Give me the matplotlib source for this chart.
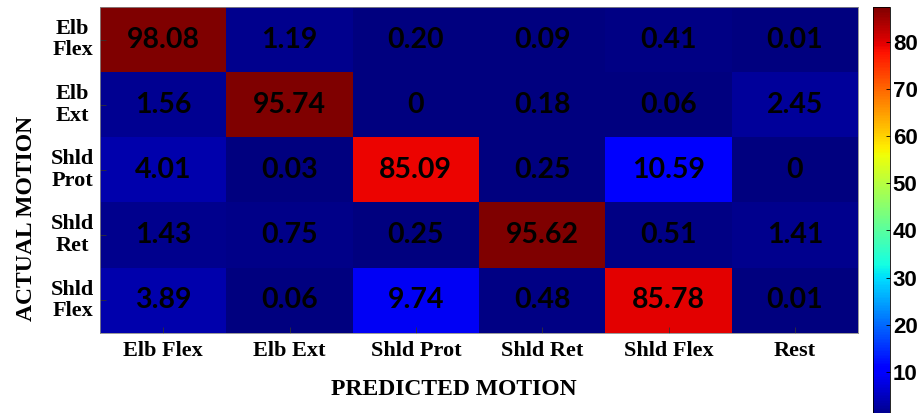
import numpy as np
import matplotlib
matplotlib.use("Agg")
import matplotlib.pyplot as plt
from matplotlib.colors import Normalize
from matplotlib.cm import ScalarMappable
import matplotlib.transforms as mtransforms

actual = ["Elb\nFlex", "Elb\nExt", "Shld\nProt", "Shld\nRet", "Shld\nFlex"]
predicted = ["Elb Flex", "Elb Ext", "Shld Prot", "Shld Ret", "Shld Flex", "Rest"]
values = [
    [98.08, 1.19, 0.20, 0.09, 0.41, 0.01],
    [1.56, 95.74, 0, 0.18, 0.06, 2.45],
    [4.01, 0.03, 85.09, 0.25, 10.59, 0],
    [1.43, 0.75, 0.25, 95.62, 0.51, 1.41],
    [3.89, 0.06, 9.74, 0.48, 85.78, 0.01],
]
labels = [
    ["98.08", "1.19", "0.20", "0.09", "0.41", "0.01"],
    ["1.56", "95.74", "0", "0.18", "0.06", "2.45"],
    ["4.01", "0.03", "85.09", "0.25", "10.59", "0"],
    ["1.43", "0.75", "0.25", "95.62", "0.51", "1.41"],
    ["3.89", "0.06", "9.74", "0.48", "85.78", "0.01"],
]
cbar_ticks = [10, 20, 30, 40, 50, 60, 70, 80]

data = np.array(values)
W, H = 923, 413
fig = plt.figure(figsize=(W / 100, H / 100), dpi=100)

ax = fig.add_axes([100 / W, 1 - 333 / H, 758 / W, 326 / H])
norm = Normalize(vmin=0, vmax=94)
ax.imshow(data, cmap="jet", norm=norm, aspect="auto", interpolation="nearest")

for i in range(data.shape[0]):
    for j in range(data.shape[1]):
        ax.text(j, i, labels[i][j], ha="center", va="center", color="black",
                fontsize=20.5, fontweight="bold", family="Lato")

ax.set_xticks(range(len(predicted)))
ax.set_xticklabels(predicted, fontsize=16, fontweight="bold", family="Liberation Serif")
ax.set_yticks(range(len(actual)))
ax.set_yticklabels([])
trans = mtransforms.blended_transform_factory(ax.transAxes, ax.transData)
for i, lab in enumerate(actual):
    ax.text(-0.036, i, lab, transform=trans, ha="center", va="center",
            multialignment="center", fontsize=16, fontweight="bold",
            family="Liberation Serif", linespacing=1.1)
ax.tick_params(axis="both", direction="in", length=4, width=0.6, color="#333333")
ax.tick_params(axis="x", pad=6)
ax.tick_params(axis="y", pad=0)
for s in ax.spines.values():
    s.set_linewidth(0.6)
    s.set_color("#888888")

ax.set_xlabel("PREDICTED MOTION", fontsize=17, fontweight="bold", family="Liberation Serif")
ax.xaxis.set_label_coords(0.467, -0.142)
ax.set_ylabel("ACTUAL MOTION", fontsize=17, fontweight="bold", family="Liberation Serif")
ax.yaxis.set_label_coords(-0.083, 0.35)

cax = fig.add_axes([873 / W, -6 / H, 17 / W, 412 / H])
cnorm = Normalize(vmin=0, vmax=87.4)
sm = ScalarMappable(norm=cnorm, cmap="jet")
cb = fig.colorbar(sm, cax=cax)
cb.set_ticks(cbar_ticks)
cb.ax.tick_params(direction="in", length=3, width=0.6, labelsize=16, pad=2)
for t in cb.ax.get_yticklabels():
    t.set_fontweight("bold")
    t.set_family("Liberation Sans")
cb.outline.set_linewidth(0.6)

fig.savefig("out.png", dpi=100)
